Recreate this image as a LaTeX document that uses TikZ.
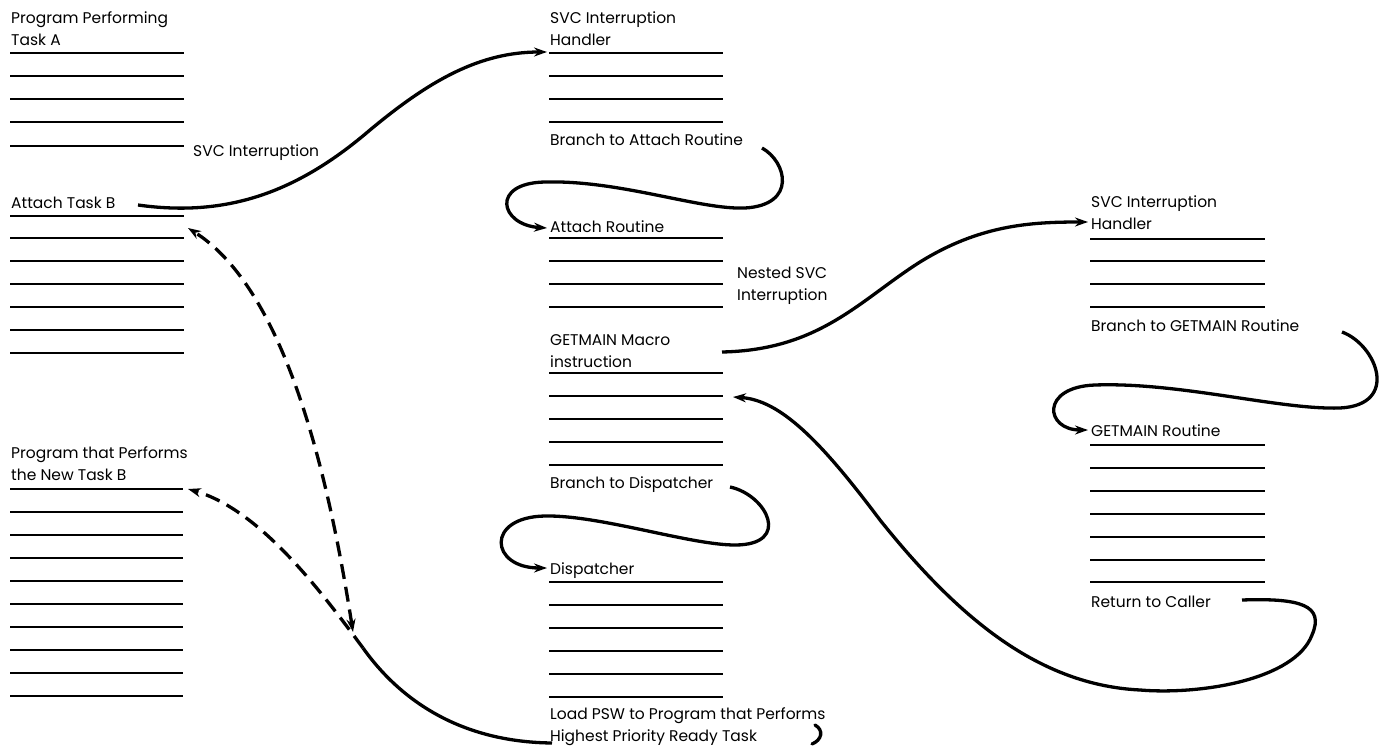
\documentclass[tikz,border=0pt]{standalone}
\usepackage{fontspec}
\setmainfont{Poppins}
\usetikzlibrary{arrows.meta}
\begin{document}
\begin{tikzpicture}[x=1pt,y=-1pt,
  txt/.style={font=\fontsize{15.5}{18}\selectfont, inner sep=0pt, anchor=base west},
  rule/.style={line width=2pt},
  flow/.style={line width=3.3pt, -{Stealth[length=13pt,width=9pt]}},
  plain/.style={line width=3.3pt},
  dashflow/.style={flow, dash pattern=on 15pt off 8pt}]
\useasboundingbox (0,0) rectangle (1390,746);

% ---------- left column ----------
\node[txt] (pA1) at (11,24) {Program Performing};
\node[txt] (pA2) at (11,46) {Task A};
\foreach \y in {53,76,99,122,146} \draw[rule] (10,\y) -- (184,\y);
\node[txt] (svc) at (193,157) {SVC Interruption};
\node[txt] (atB) at (11,209) {Attach Task B};
\foreach \y in {216,238,261,284,307,330,353} \draw[rule] (10,\y) -- (184,\y);
\node[txt] (pB1) at (11,458) {Program that Performs};
\node[txt] (pB2) at (11,480) {the New Task B};
\foreach \y in {489,512,535,558,581,604,627,650,673,696} \draw[rule] (10,\y) -- (183,\y);

% ---------- middle column ----------
\node[txt] (h1a) at (550,24) {SVC Interruption};
\node[txt] (h1b) at (550,46) {Handler};
\foreach \y in {53,76,99,122} \draw[rule] (549,\y) -- (723,\y);
\node[txt] (brA) at (550,146) {Branch to Attach Routine};
\node[txt] (attR) at (550,233) {Attach Routine};
\foreach \y in {238,261,284,307} \draw[rule] (549,\y) -- (723,\y);
\node[txt] (nest1) at (737,278) {Nested SVC};
\node[txt] (nest2) at (737,300) {Interruption};
\node[txt] (gm1) at (550,345) {GETMAIN Macro};
\node[txt] (gm2) at (550,367) {instruction};
\foreach \y in {373,396,419,442,465} \draw[rule] (549,\y) -- (723,\y);
\node[txt] (brD) at (550,488) {Branch to Dispatcher};
\node[txt] (disp) at (550,574) {Dispatcher};
\foreach \y in {582,605,628,651,674,697} \draw[rule] (549,\y) -- (723,\y);
\node[txt] (ld1) at (550,719) {Load PSW to Program that Performs};
\node[txt] (ld2) at (550,741) {Highest Priority Ready Task};

% ---------- right column ----------
\node[txt] (h2a) at (1091,208) {SVC Interruption};
\node[txt] (h2b) at (1091,230) {Handler};
\foreach \y in {239,261,284,307} \draw[rule] (1090,\y) -- (1265,\y);
\node[txt] (brG) at (1091,331) {Branch to GETMAIN Routine};
\node[txt] (gmR) at (1091,436) {GETMAIN Routine};
\foreach \y in {445,468,491,514,537,560,582} \draw[rule] (1090,\y) -- (1265,\y);
\node[txt] (ret) at (1091,607) {Return to Caller};

% ---------- connector end points ----------
\coordinate (c1s) at (138,205);
\coordinate (c1e) at (547,52);
\coordinate (c2s) at (762,148);
\coordinate (c2e) at (547,228);
\coordinate (c3s) at (722,352);
\coordinate (c3e) at (1088,222);
\coordinate (c4s) at (1342,332);
\coordinate (c4e) at (1088,430);
\coordinate (c5s) at (730,487);
\coordinate (c5e) at (547,568);
\coordinate (c6s) at (1242,600);
\coordinate (c6e) at (733,397);
\coordinate (hk1) at (815,725);
\coordinate (hk2) at (812,744);
\coordinate (bot) at (552,743);
\coordinate (mrg) at (363,648);
\coordinate (c7e) at (188,489);
\coordinate (c8t) at (188,228);
\coordinate (c8b) at (353,632);

% ---------- connectors ----------
\draw[flow] (c1s) .. controls (230,218) and (300,190) .. (370,130)
                  .. controls (430,80) and (480,52) .. (c1e);
\draw[flow] (c2s) .. controls (787,162) and (797,205) .. (745,208)
                  .. controls (700,210) and (620,180) .. (545,182)
                  .. controls (490,183) and (500,225) .. (c2e);
\draw[flow] (c3s) .. controls (820,350) and (860,300) .. (920,262)
                  .. controls (980,225) and (1030,222) .. (c3e);
\draw[flow] (c4s) .. controls (1377,345) and (1400,405) .. (1340,408)
                  .. controls (1280,410) and (1180,382) .. (1095,385)
                  .. controls (1040,387) and (1045,430) .. (c4e);
\draw[flow] (c5s) .. controls (767,495) and (792,545) .. (735,545)
                  .. controls (690,545) and (600,515) .. (545,516)
                  .. controls (485,517) and (490,568) .. (c5e);
\draw[flow] (c6s) .. controls (1300,598) and (1325,605) .. (1312,635)
                  .. controls (1295,680) and (1200,695) .. (1140,690)
                  .. controls (1040,685) and (960,620) .. (880,520)
                  .. controls (820,440) and (780,400) .. (c6e);
\draw[line width=3.3pt, line cap=round] (hk1) .. controls (824,730) and (822,740) .. (hk2);
\draw[plain] (bot) .. controls (460,742) and (400,700) .. (mrg);
\draw[dashflow] (mrg) .. controls (320,590) and (260,510) .. (c7e);
\draw[dashflow, {Stealth[length=13pt,width=9pt]}-{Stealth[length=13pt,width=9pt]}]
      (c8b) .. controls (320,420) and (270,280) .. (c8t);
\end{tikzpicture}
\end{document}
